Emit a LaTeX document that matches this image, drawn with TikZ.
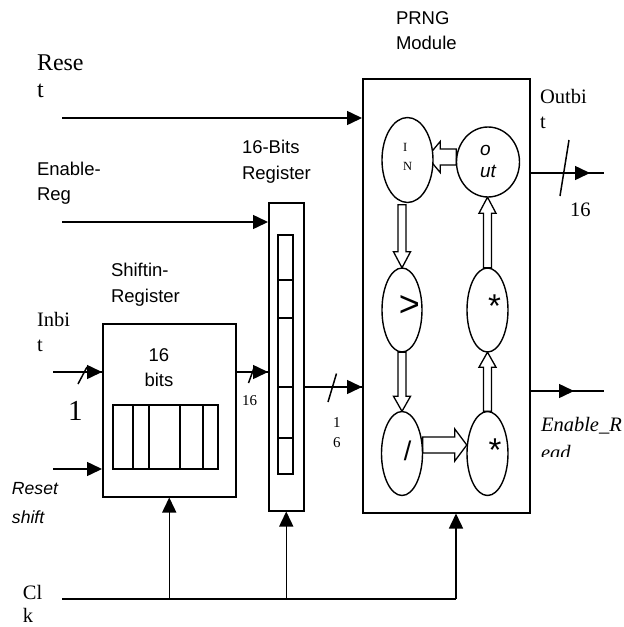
\documentclass[tikz,border=0pt]{standalone}
\usepackage{fontspec}
\setmainfont{Liberation Serif}
\newfontfamily\arial{Liberation Sans}
\usetikzlibrary{arrows.meta,shapes.geometric,calc}

\tikzset{
  wire/.style={line width=1.5pt},
  tipend/.style={-{Triangle[length=15pt,width=14pt]}},
  blockbox/.style={draw,rectangle,line width=1.5pt,inner sep=0pt},
  cell/.style={line width=1.3pt},
  oval/.style={draw,ellipse,line width=1.4pt,fill=white,inner sep=0pt},
  hollow/.style={draw,line width=1.3pt,fill=white,line join=miter},
  lbl/.style={inner sep=0pt,outer sep=0pt,align=left,anchor=north west},
  serif/.style={font=\fontsize{20.5}{25}\selectfont},
  busmark/.style={line width=1.5pt},
}

% hollow block arrow from #1 to #2: half shaft #3, half head #4, head length #5 (pt)
\newcommand\hollowarr[5]{%
  \path let \p1=(#1), \p2=(#2), \n1={atan2(\y2-\y1,\x2-\x1)}, \n2={veclen(\x2-\x1,\y2-\y1)} in
    \pgfextra{\pgfmathsetmacro\hwA{\n1}\pgfmathsetmacro\hwL{\n2}\xdef\hwA{\hwA}\xdef\hwL{\hwL}\xdef\hwX{\x1}\xdef\hwY{\y1}};
  \pgfmathsetmacro\hwB{\hwL-#5}%
  \draw[hollow,shift={(\hwX,\hwY)},rotate=\hwA]
    (0pt,-#3pt) -- (\hwB pt,-#3pt) -- (\hwB pt,-#4pt) -- (\hwL pt,0pt)
    -- (\hwB pt,#4pt) -- (\hwB pt,#3pt) -- (0pt,#3pt) -- cycle;
}
% filled arrow head ending at point #1, pointing right
\newcommand\headR[1]{\draw[wire,tipend] (#1) ++(-16,0) -- (#1);}

\begin{document}
\begin{tikzpicture}[x=1pt,y=-1pt]
\useasboundingbox (0,0) rectangle (624,627);

% ---- blocks
\node[blockbox,minimum width=167pt,minimum height=434pt,anchor=north west] (prng) at (362,78) {};
\node[blockbox,minimum width=35pt,minimum height=308pt,anchor=north west] (reg) at (268,202) {};
\node[blockbox,minimum width=133pt,minimum height=173pt,anchor=north west] (shift) at (102,323) {};

% register cells
\draw[cell] (278,235) rectangle (293,474);
\foreach \yy in {280,318,387,438} \draw[cell] (278,\yy) -- (293,\yy);
% shift register cells
\draw[cell] (113,405) rectangle (218,469);
\foreach \xx in {133,149,180,203} \draw[cell] (\xx,405) -- (\xx,469);

% ---- ellipses (positions), drawn after arrows
\path (407.5,160) coordinate (cIN) (488,162) coordinate (cOUT)
      (402,310) coordinate (cGT) (487.5,310) coordinate (cM1)
      (402,453.5) coordinate (cDIV) (487.5,453.5) coordinate (cM2);
\path node[ellipse,inner sep=0pt,minimum width=51pt,minimum height=85pt] (IN) at (cIN) {}
      node[ellipse,inner sep=0pt,minimum width=63pt,minimum height=70pt] (out) at (cOUT) {}
      node[ellipse,inner sep=0pt,minimum width=40pt,minimum height=84pt] (gt) at (cGT) {}
      node[ellipse,inner sep=0pt,minimum width=41pt,minimum height=84pt] (mul1) at (cM1) {}
      node[ellipse,inner sep=0pt,minimum width=41pt,minimum height=84pt] (div) at (cDIV) {}
      node[ellipse,inner sep=0pt,minimum width=41pt,minimum height=84pt] (mul2) at (cM2) {};

% hollow arrows
\hollowarr{$(out.west)+(0,-5)$}{$(IN.east)+(-6,-3)$}{8}{15.5}{13}
\hollowarr{$(div.east)+(0,-8.5)$}{$(mul2.west)+(0,-8.5)$}{8}{16}{12}
\hollowarr{$(IN.south -| gt.north)+(0,2)$}{gt.north}{4}{8.5}{16}
\hollowarr{gt.south}{div.north}{4}{8.5}{15}
\hollowarr{mul2.north}{mul1.south}{4}{8.5}{15}
\hollowarr{mul1.north}{mul1.north |- out.south}{4}{8.5}{16}

% draw ellipses on top
\node[oval,minimum width=51pt,minimum height=85pt] at (IN) {};
\node[oval,minimum width=63pt,minimum height=70pt] at (out) {};
\node[oval,minimum width=40pt,minimum height=84pt] at (gt) {};
\node[oval,minimum width=41pt,minimum height=84pt] at (mul1) {};
\node[oval,minimum width=41pt,minimum height=84pt] at (div) {};
\node[oval,minimum width=41pt,minimum height=84pt] at (mul2) {};

% ellipse texts
\node[lbl,font=\fontsize{12.5}{19}\selectfont] (tIN) at (403,143) {I\\N};
\node[lbl,font=\arial\itshape\fontsize{19}{22}\selectfont] (tOUT) at (480,145) {o\\ut};
\node[inner sep=0pt,font=\arial\fontsize{36}{36}\selectfont] (tGT) at (409.5,306.5) {>};
\node[inner sep=0pt,anchor=north,font=\arial\fontsize{33}{33}\selectfont] (tM1) at (494.5,295) {*};
\node[inner sep=0pt,font=\arial\fontsize{27}{27}\selectfont] (tDIV) at (407.5,451) {/};
\node[inner sep=0pt,anchor=north,font=\arial\fontsize{33}{33}\selectfont] (tM2) at (495,439) {*};

% ---- wires
\coordinate (resetS) at (62,118);
\draw[wire,tipend] (resetS) -- (resetS -| prng.west);
\coordinate (enS) at (62,222);
\draw[wire,tipend] (enS) -- (enS -| reg.west);
% Inbit bus
\coordinate (inS) at (53,372);
\coordinate (inE) at (inS -| shift.west);
\draw[wire] (inS) -- (inE);
\headR{inE}
\draw[busmark] (78,384) -- (87,367);
% reset shift
\coordinate (rsS) at (53,469);
\draw[wire,tipend] (rsS) -- (rsS -| shift.west);
% shift -> register bus
\coordinate (srS) at (inS -| shift.east);
\coordinate (srE) at (inS -| reg.west);
\draw[wire] (srS) -- (srE);
\headR{srE}
\draw[busmark] (248.5,383) -- (254.5,366.5);
% register -> PRNG bus
\coordinate (busY) at (0,387);
\coordinate (rpS) at (busY -| reg.east);
\coordinate (rpE) at (busY -| prng.west);
\draw[wire] (rpS) -- (rpE);
\headR{rpE}
\draw[busmark] (328,402) -- (336.5,373.5);
% Outbit
\coordinate (obT) at (590,173);
\coordinate (obE) at (604,173);
\draw[wire] (obT -| prng.east) -- (obE);
\headR{obT}
\draw[busmark] (560,196) -- (569,140);
% Enable_Read
\coordinate (erT) at (574,391);
\coordinate (erE) at (604,391);
\draw[wire] (erT -| prng.east) -- (erE);
\headR{erT}
% clock
\coordinate (clkS) at (62,599);
\coordinate (clkE) at (456,599);
\draw[wire] (clkS) -- (clkE);
\draw[wire,tipend] (clkE) -- (clkE |- prng.south);
\draw[wire,tipend] (shift.south |- clkS) -- (shift.south);
\draw[wire,tipend] (reg.south |- clkS) -- (reg.south);

% ---- labels
\node[lbl,font=\fontsize{24}{27}\selectfont] (lReset) at (37,55) {Rese\\t};
\node[lbl,font=\arial\fontsize{18.5}{25}\selectfont] (lEnReg) at (37,162) {Enable-\\Reg};
\node[lbl,font=\arial\fontsize{18.5}{26}\selectfont] (lBits) at (242,140) {16-Bits\\Register};
\node[lbl,font=\arial\fontsize{18.5}{25}\selectfont] (lPRNG) at (396,12) {PRNG\\Module};
\node[lbl,font=\arial\fontsize{18.5}{26}\selectfont] (lShift) at (111,263) {Shiftin-\\Register};
\node[lbl,serif] (lInbit) at (37,312) {Inbi\\t};
\node[inner sep=0pt,anchor=base west,font=\fontsize{29}{29}\selectfont] (lOne) at (68,420) {1};
\node[inner sep=0pt,align=center,anchor=north,font=\arial\fontsize{18.5}{25}\selectfont] (l16bits) at (159,348) {16\\bits};
\node[inner sep=0pt,anchor=base west,font=\fontsize{15}{15}\selectfont] (l16a) at (242,405) {16};
\node[lbl,font=\arial\itshape\fontsize{17.6}{29}\selectfont] (lRshift) at (12,482.5) {Reset\\shift};
\node[lbl,font=\fontsize{20.5}{23}\selectfont] (lClk) at (23,585) {Cl\\k};
\node[lbl,font=\fontsize{15}{20}\selectfont] (l16b) at (333,418) {1\\6};
\node[lbl,serif] (lOut) at (540,89) {Outbi\\t};
\node[inner sep=0pt,anchor=base west,serif] (l16c) at (570,216) {16};
\begin{scope}
  \clip (530,400) rectangle (624,456.5);
  \node[lbl,font=\itshape\fontsize{20.5}{28}\selectfont] (lEnRead) at (541,417) {Enable\_R\\ead};
\end{scope}
\end{tikzpicture}
\end{document}
